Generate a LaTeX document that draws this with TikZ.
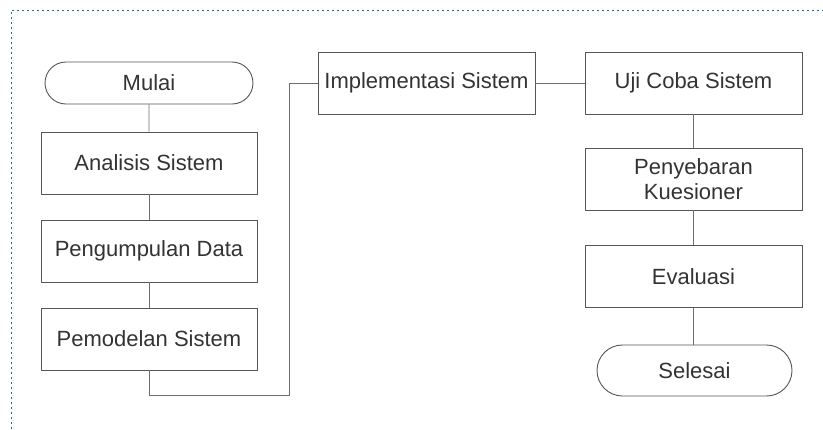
\documentclass[tikz,border=0pt]{standalone}
\usepackage{fontspec}
\setmainfont{Liberation Sans}
\usetikzlibrary{shapes.misc}
\definecolor{boxline}{HTML}{555555}
\definecolor{conline}{HTML}{6E6E6E}
\definecolor{txt}{HTML}{333333}
\definecolor{frame}{HTML}{2A6A88}
\tikzset{
  procbox/.style={draw=boxline, line width=0.9pt, rectangle, minimum width=216pt, minimum height=62pt, inner sep=0pt, text=txt, font=\fontsize{22}{25}\selectfont, align=center},
  termbox/.style={draw=boxline, line width=0.9pt, rounded rectangle, inner sep=0pt, text=txt, font=\fontsize{22}{25}\selectfont},
  conn/.style={draw=conline, line width=0.9pt}
}
\begin{document}
\begin{tikzpicture}[x=1pt,y=-1pt]
\useasboundingbox (0,0) rectangle (823,429);
\draw[frame, line width=1pt, dash pattern=on 2pt off 3pt] (11,429) -- (11,10) -- (823,10);
\node[termbox, minimum width=208pt, minimum height=42pt] (mulai) at (149,83) {Mulai};
\node[procbox] (analisis) at (149,163) {Analisis Sistem};
\node[procbox] (pengumpulan) at (149,251) {Pengumpulan Data};
\node[procbox] (pemodelan) at (149,339) {Pemodelan Sistem};
\node[procbox, minimum width=217pt] (impl) at (426.5,83) {Implementasi Sistem};
\node[procbox, minimum width=217pt] (uji) at (693.5,83) {Uji Coba Sistem};
\node[procbox, minimum width=217pt] (sebar) at (693.5,179) {Penyebaran\\Kuesioner};
\node[procbox, minimum width=217pt] (eval) at (693.5,276.5) {Evaluasi};
\node[termbox, minimum width=195pt, minimum height=51pt] (selesai) at (694.5,370.5) {Selesai};
\coordinate (c1) at (149,395);
\coordinate (c2) at (289,395);
\coordinate (c3) at (289,83);
\draw[conn] (mulai) -- (analisis);
\draw[conn] (analisis) -- (pengumpulan);
\draw[conn] (pengumpulan) -- (pemodelan);
\draw[conn] (pemodelan.south) -- (c1) -- (c2) -- (c3) -- (impl.west);
\draw[conn] (impl) -- (uji);
\draw[conn] (uji) -- (sebar);
\draw[conn] (sebar) -- (eval);
\draw[conn] (eval.south) -- (eval.south |- selesai.north);
\end{tikzpicture}
\end{document}
